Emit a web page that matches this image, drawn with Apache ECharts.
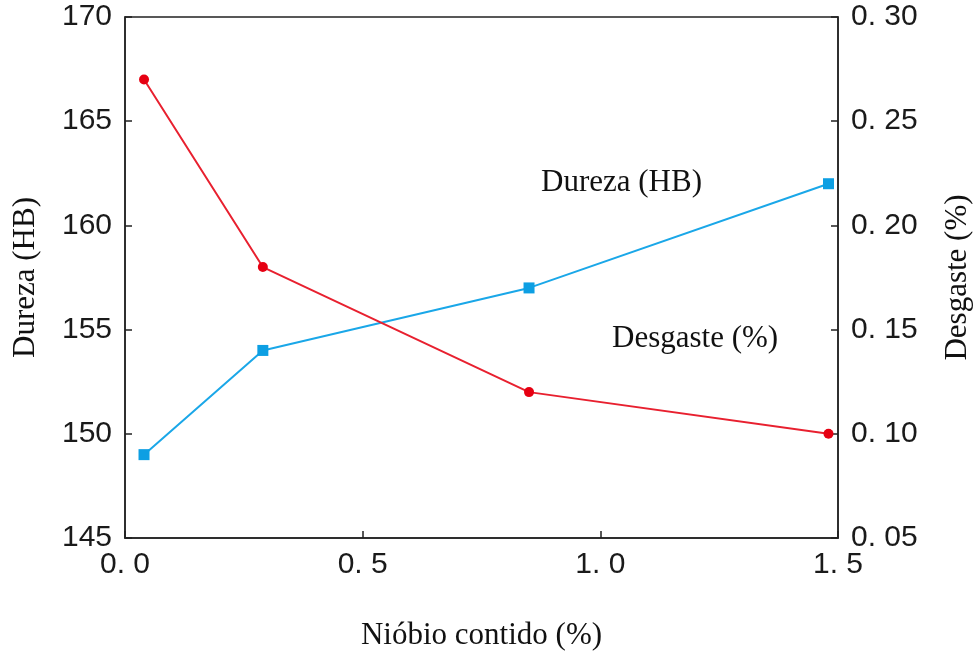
<!DOCTYPE html>
<html>
<head>
<meta charset="utf-8">
<script src="https://cdn.jsdelivr.net/npm/echarts@6/dist/echarts.min.js"></script>
<style>
  html, body { margin: 0; padding: 0; background: #fff; }
  #chart { width: 976px; height: 655px; }
</style>
</head>
<body>
<div id="chart"></div>
<script>
// niobium content (%)
var niobio = [0.04, 0.29, 0.85, 1.48];
// hardness (HB), left axis
var dureza = [149, 154, 157, 162];
// wear (%), right axis
var desgaste = [0.27, 0.18, 0.12, 0.10];

var xTickLabels = ['0. 0', '0. 5', '1. 0', '1. 5'];
var leftTickLabels = ['145', '150', '155', '160', '165', '170'];
var rightTickLabels = ['0. 05', '0. 10', '0. 15', '0. 20', '0. 25', '0. 30'];

var chartDom = document.getElementById('chart');
var myChart = echarts.init(chartDom);
var option;

var tickFont = {
  fontFamily: 'Liberation Sans',
  fontSize: 30,
  color: '#1a1a1a'
};
var serif = 'Liberation Serif';

option = {
  animation: false,
  grid: {
    left: 125,
    right: 138,
    top: 17,
    bottom: 117,
    outerBoundsMode: 'none',
    containLabel: false,
    show: true,
    borderColor: '#222',
    borderWidth: 1.5
  },
  xAxis: {
    type: 'value',
    min: 0,
    max: 1.5,
    interval: 0.5,
    name: 'Nióbio contido (%)',
    nameLocation: 'middle',
    nameGap: 82,
    nameTextStyle: { fontFamily: serif, fontSize: 31, color: '#111' },
    axisLine: { lineStyle: { color: '#222', width: 1.5 } },
    axisTick: { inside: true, length: 7, lineStyle: { color: '#222', width: 1.5 } },
    axisLabel: Object.assign({
      margin: 12,
      showMinLabel: true,
      showMaxLabel: true,
      formatter: function (v, i) { return xTickLabels[i]; }
    }, tickFont),
    splitLine: { show: false }
  },
  yAxis: [
    {
      type: 'value',
      position: 'left',
      min: 145,
      max: 170,
      interval: 5,
      name: 'Dureza (HB)',
      nameLocation: 'middle',
      nameRotate: 90,
      nameGap: 84,
      nameTextStyle: { fontFamily: serif, fontSize: 31, color: '#111' },
      axisLine: { show: true, lineStyle: { color: '#222', width: 1.5 } },
      axisTick: { show: true, inside: true, length: 7, lineStyle: { color: '#222', width: 1.5 } },
      axisLabel: Object.assign({
        margin: 13,
        formatter: function (v, i) { return leftTickLabels[i]; }
      }, tickFont),
      splitLine: { show: false }
    },
    {
      type: 'value',
      position: 'right',
      min: 0.05,
      max: 0.30,
      interval: 0.05,
      name: 'Desgaste (%)',
      nameLocation: 'middle',
      nameRotate: 90,
      nameGap: 104,
      nameTextStyle: { fontFamily: serif, fontSize: 31, color: '#111' },
      axisLine: { show: true, lineStyle: { color: '#222', width: 1.5 } },
      axisTick: { show: true, inside: true, length: 7, lineStyle: { color: '#222', width: 1.5 } },
      axisLabel: Object.assign({
        margin: 13,
        formatter: function (v, i) { return rightTickLabels[i]; }
      }, tickFont),
      splitLine: { show: false }
    }
  ],
  graphic: [
    {
      type: 'text',
      left: 541,
      top: 167,
      style: { text: 'Dureza (HB)', font: '31px "Liberation Serif"', fill: '#111' }
    },
    {
      type: 'text',
      left: 612,
      top: 323,
      style: { text: 'Desgaste (%)', font: '31px "Liberation Serif"', fill: '#111' }
    }
  ],
  series: [
    {
      name: 'Dureza (HB)',
      type: 'line',
      yAxisIndex: 0,
      data: niobio.map(function (x, i) { return [x, dureza[i]]; }),
      symbol: 'rect',
      symbolSize: 11,
      itemStyle: { color: '#0d9fe3' },
      lineStyle: { color: '#1aa7e8', width: 2 }
    },
    {
      name: 'Desgaste (%)',
      type: 'line',
      yAxisIndex: 1,
      data: niobio.map(function (x, i) { return [x, desgaste[i]]; }),
      symbol: 'circle',
      symbolSize: 10,
      itemStyle: { color: '#e60012' },
      lineStyle: { color: '#e8202f', width: 2 }
    }
  ]
};

option && myChart.setOption(option);
</script>
</body>
</html>
